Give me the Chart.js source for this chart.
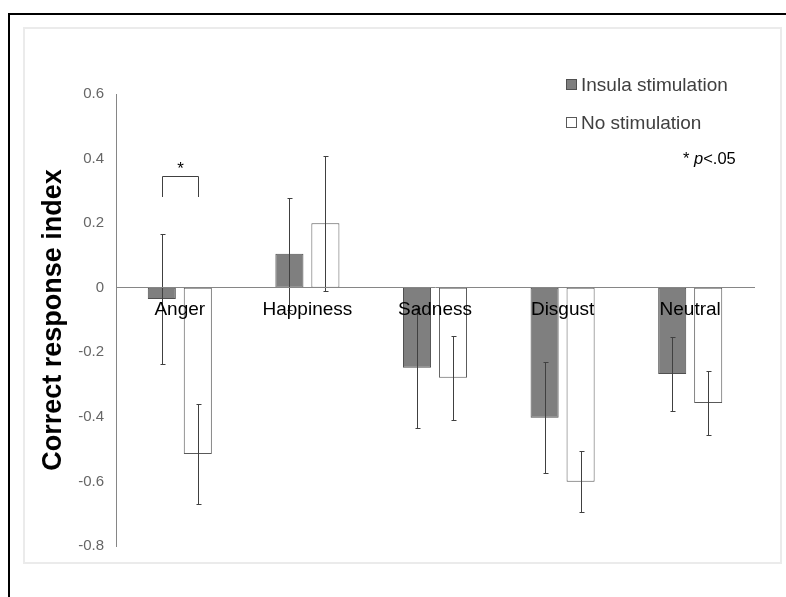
<!DOCTYPE html>
<html>
<head>
<meta charset="utf-8">
<script src="https://cdn.jsdelivr.net/npm/chart.js@4"></script>
<style>
  html, body { margin: 0; padding: 0; background: #fff; overflow: hidden; }
  body { width: 786px; height: 597px; position: relative; font-family: "Liberation Sans", Arial, sans-serif; }
  #outer { position: absolute; left: 8px; top: 13px; width: 800px; height: 600px; border-left: 2px solid #000; border-top: 2px solid #000; }
  #frame { position: absolute; left: 23px; top: 27px; width: 755px; height: 533px; border: 2px solid #ebebeb; }
  #chart { position: absolute; left: 0; top: 0; }
</style>
</head>
<body>
<div id="outer"></div>
<div id="frame"></div>
<canvas id="chart" width="786" height="597"></canvas>
<script>
const emotions = ['Anger', 'Happiness', 'Sadness', 'Disgust', 'Neutral'];
const insula = [-0.035, 0.105, -0.248, -0.403, -0.267];
const insulaErr = [0.2, 0.174, 0.186, 0.172, 0.115];
const noStim = [-0.515, 0.2, -0.279, -0.601, -0.357];
const noStimErr = [0.155, 0.209, 0.13, 0.095, 0.098];
const yTicks = [0.6, 0.4, 0.2, 0, -0.2, -0.4, -0.6, -0.8];

const errors = [insulaErr, noStimErr];

// error bars, legend, significance mark
const extras = {
  id: 'extras',
  afterDatasetsDraw(chart) {
    const ctx = chart.ctx;
    const y = chart.scales.y;
    ctx.save();
    ctx.strokeStyle = '#404040';
    ctx.lineWidth = 1;
    chart.data.datasets.forEach((ds, i) => {
      const meta = chart.getDatasetMeta(i);
      meta.data.forEach((bar, j) => {
        const x = Math.round(bar.x) + 0.5;
        const top = Math.round(y.getPixelForValue(ds.data[j] + errors[i][j])) + 0.5;
        const bot = Math.round(y.getPixelForValue(ds.data[j] - errors[i][j])) + 0.5;
        ctx.beginPath();
        ctx.moveTo(x, top); ctx.lineTo(x, bot);
        ctx.moveTo(x - 2, top); ctx.lineTo(x + 3, top);
        ctx.moveTo(x - 2, bot); ctx.lineTo(x + 3, bot);
        ctx.stroke();
      });
    });
    ctx.restore();
  },
  afterDraw(chart) {
    const ctx = chart.ctx;
    const y = chart.scales.y;
    ctx.save();
    // bracket over Anger
    const x1 = Math.round(chart.getDatasetMeta(0).data[0].x) + 0.5;
    const x2 = Math.round(chart.getDatasetMeta(1).data[0].x) + 0.5;
    const yt = Math.round(y.getPixelForValue(0.345)) + 0.5;
    const yb = Math.round(y.getPixelForValue(0.28));
    ctx.strokeStyle = '#404040';
    ctx.lineWidth = 1;
    ctx.beginPath();
    ctx.moveTo(x1, yb); ctx.lineTo(x1, yt); ctx.lineTo(x2, yt); ctx.lineTo(x2, yb);
    ctx.stroke();
    ctx.fillStyle = '#000';
    ctx.font = '17px "Liberation Sans", Arial';
    ctx.textAlign = 'center';
    ctx.textBaseline = 'middle';
    ctx.fillText('*', (x1 + x2) / 2, yt - 7);

    // legend
    ctx.textAlign = 'left';
    ctx.font = '19px "Liberation Sans", Arial';
    const rows = [85, 123];
    chart.data.datasets.forEach((ds, i) => {
      const cy = rows[i];
      ctx.fillStyle = ds.backgroundColor;
      ctx.fillRect(566.5, cy - 5.5, 10, 10);
      ctx.strokeStyle = ds.borderColor;
      ctx.strokeRect(566.5, cy - 5.5, 10, 10);
      ctx.fillStyle = '#404040';
      ctx.fillText(ds.label, 581, cy + 1);
    });

    // p note
    ctx.fillStyle = '#000';
    ctx.font = '16.5px "Liberation Sans", Arial';
    let nx = 683;
    const ny = 159;
    ctx.fillText('* ', nx, ny);
    nx += ctx.measureText('* ').width;
    ctx.font = 'italic 16.5px "Liberation Sans", Arial';
    ctx.fillText('p', nx, ny);
    nx += ctx.measureText('p').width;
    ctx.font = '16.5px "Liberation Sans", Arial';
    ctx.fillText('<.05', nx, ny);
    ctx.restore();
  }
};

new Chart(document.getElementById('chart'), {
  type: 'bar',
  data: {
    labels: emotions,
    datasets: [{
      label: 'Insula stimulation',
      data: insula,
      backgroundColor: '#7f7f7f',
      borderColor: '#505050',
      borderWidth: 1,
      borderSkipped: false
    }, {
      label: 'No stimulation',
      data: noStim,
      backgroundColor: '#ffffff',
      borderColor: '#595959',
      borderWidth: 1,
      borderSkipped: false
    }]
  },
  options: {
    responsive: false,
    animation: false,
    categoryPercentage: 0.564,
    barPercentage: 0.78,
    layout: { padding: { left: 0, top: 94, right: 32, bottom: 51 } },
    plugins: {
      legend: { display: false },
      tooltip: { enabled: false }
    },
    scales: {
      x: {
        position: { y: 0 },
        grid: { display: false, drawTicks: false },
        border: { display: true, color: '#868686', width: 1, z: 1 },
        ticks: {
          z: 2,
          color: '#000',
          padding: 11,
          font: { family: '"Liberation Sans", Arial', size: 19 }
        }
      },
      y: {
        min: -0.8,
        max: 0.6,
        afterBuildTicks: s => { s.ticks = yTicks.map(v => ({ value: v })); },
        afterFit: s => { s.width = 116; },
        grid: { display: false, drawTicks: false },
        border: { display: true, color: '#868686', width: 1 },
        ticks: {
          color: '#666',
          padding: 12,
          font: { family: '"Liberation Sans", Arial', size: 15 },
          callback: v => String(Math.round(v * 10) / 10)
        },
        title: {
          display: true,
          text: 'Correct response index',
          color: '#000',
          padding: { top: 37, bottom: 0 },
          font: { family: '"Liberation Sans", Arial', size: 27, weight: 'bold' }
        }
      }
    }
  },
  plugins: [extras]
});
</script>
</body>
</html>
